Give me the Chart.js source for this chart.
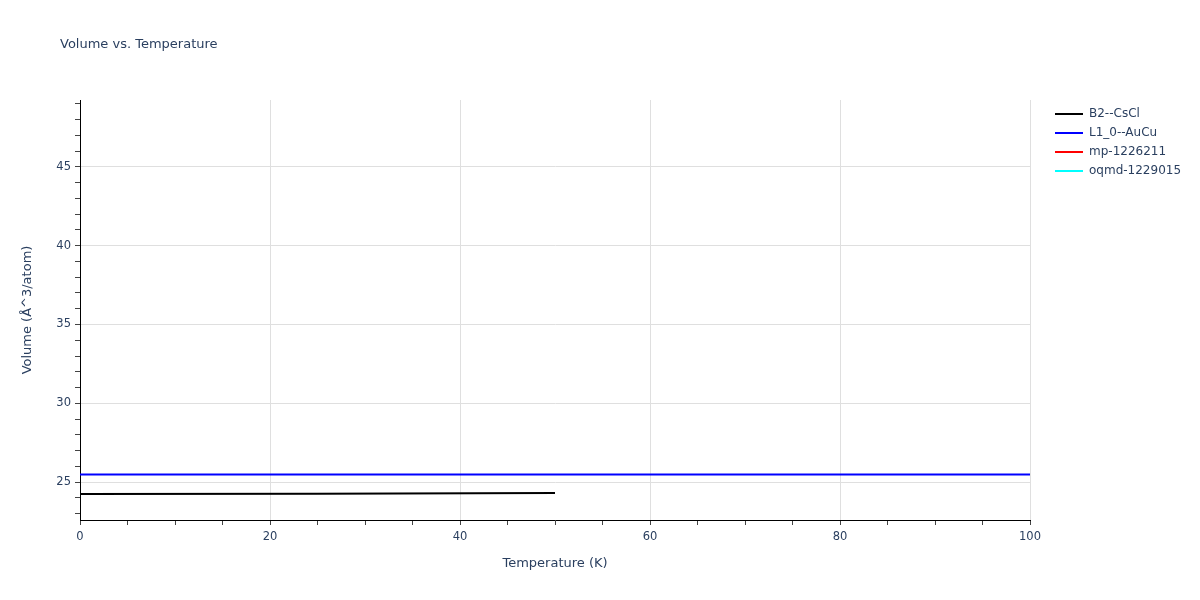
<!DOCTYPE html>
<html>
<head>
<meta charset="utf-8">
<script src="https://cdn.jsdelivr.net/npm/chart.js@4"></script>
<style>
  html, body { margin: 0; padding: 0; background: #fff; }
  #wrap { width: 1200px; height: 600px; }
</style>
</head>
<body>
<div id="wrap"><canvas id="myChart" width="1200" height="600"></canvas></div>
<script>
// values
const seriesNames = ['B2--CsCl', 'L1_0--AuCu', 'mp-1226211', 'oqmd-1229015'];
const seriesColors = ['#000000', '#0000ff', '#ff0000', '#00ffff'];

const b2Temp = [0, 25, 50];
const b2Volume = [24.24, 24.26, 24.30];

const l10Temp = [0, 100];
const l10Volume = [25.48, 25.48];

const mpTemp = [];
const mpVolume = [];

const oqmdTemp = [];
const oqmdVolume = [];

const xTickLabels = [0, 20, 40, 60, 80, 100];
const yTickLabels = [25, 30, 35, 40, 45];

const textColor = '#2a3f5f';
const fontFamily = '"DejaVu Sans", Verdana, sans-serif';

function toPoints(xs, ys) {
  return xs.map((x, i) => ({ x: x, y: ys[i] }));
}

const allTemps = [b2Temp, l10Temp, mpTemp, oqmdTemp];
const allVolumes = [b2Volume, l10Volume, mpVolume, oqmdVolume];

const data = {
  datasets: seriesNames.map((name, i) => ({
    label: name,
    data: toPoints(allTemps[i], allVolumes[i]),
    borderColor: seriesColors[i],
    backgroundColor: seriesColors[i],
    borderWidth: 2,
    pointRadius: 0,
    showLine: true,
    tension: 0
  }))
};

// title and legend drawn plotly-style
const plotlyBits = {
  id: 'plotlyBits',
  afterDraw(chart) {
    const ctx = chart.ctx;
    ctx.save();
    ctx.fillStyle = textColor;
    ctx.font = '13px ' + fontFamily;
    ctx.textBaseline = 'middle';
    ctx.textAlign = 'left';
    ctx.fillText('Volume vs. Temperature', 60, 45);

    ctx.font = '12px ' + fontFamily;
    seriesNames.forEach((name, i) => {
      const y = 114 + i * 19;
      ctx.strokeStyle = seriesColors[i];
      ctx.lineWidth = 2;
      ctx.beginPath();
      ctx.moveTo(1055, y);
      ctx.lineTo(1083, y);
      ctx.stroke();
      ctx.fillStyle = textColor;
      ctx.fillText(name, 1089, y);
    });
    ctx.restore();
  }
};

const config = {
  type: 'scatter',
  data: data,
  options: {
    responsive: false,
    animation: false,
    layout: { padding: { left: 0, right: 170, top: 100, bottom: 0 } },
    plugins: {
      legend: { display: false },
      title: { display: false },
      tooltip: { enabled: false }
    },
    scales: {
      x: {
        type: 'linear',
        min: 0,
        max: 100,
        afterBuildTicks: axis => {
          const t = [];
          for (let v = 0; v <= 100; v += 5) t.push({ value: v });
          axis.ticks = t;
        },
        afterFit: axis => { axis.height = 80; },
        ticks: {
          color: textColor,
          font: { family: fontFamily, size: 11.5 },
          padding: 5,
          maxRotation: 0,
          autoSkip: false,
          callback: v => (xTickLabels.includes(v) ? v : '')
        },
        grid: {
          color: c => (c.tick && xTickLabels.includes(c.tick.value) && c.tick.value !== 0 ? '#dfdfdf' : 'rgba(0,0,0,0)'),
          tickColor: '#444',
          tickLength: 5,
          drawTicks: true,
          lineWidth: 1
        },
        border: { display: true, color: '#000', width: 1 },
        title: {
          display: true,
          text: 'Temperature (K)',
          color: textColor,
          font: { family: fontFamily, size: 13 },
          padding: { top: 0, bottom: 29 }
        }
      },
      y: {
        type: 'linear',
        min: 22.59,
        max: 49.25,
        afterBuildTicks: axis => {
          const t = [];
          for (let v = 23; v <= 49; v += 1) t.push({ value: v });
          axis.ticks = t;
        },
        afterFit: axis => { axis.width = 80; },
        ticks: {
          color: textColor,
          font: { family: fontFamily, size: 11.5 },
          padding: 4,
          autoSkip: false,
          callback: v => (yTickLabels.includes(v) ? v : '')
        },
        grid: {
          color: c => (c.tick && yTickLabels.includes(c.tick.value) ? '#dfdfdf' : 'rgba(0,0,0,0)'),
          tickColor: '#444',
          tickLength: 5,
          drawTicks: true,
          lineWidth: 1
        },
        border: { display: true, color: '#000', width: 1 },
        title: {
          display: true,
          text: 'Volume (Å^3/atom)',
          color: textColor,
          font: { family: fontFamily, size: 13 },
          padding: { top: 20, bottom: 0 }
        }
      }
    }
  },
  plugins: [plotlyBits]
};

const myChart = new Chart(
  document.getElementById('myChart'),
  config
);
</script>
</body>
</html>
